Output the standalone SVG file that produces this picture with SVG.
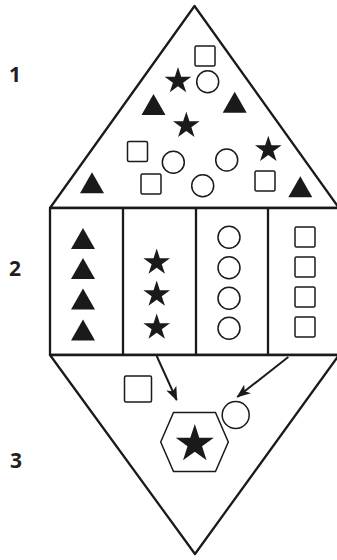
<svg xmlns="http://www.w3.org/2000/svg" width="337" height="560" viewBox="0 0 337 560">
<style>
.frame{fill:#fff;stroke:#1a1a1a;stroke-width:2.3;stroke-linejoin:round}
.o{fill:none;stroke:#1a1a1a;stroke-width:1.5}
.f{fill:#1a1a1a}
.lbl{font-family:"Open Sans","Noto Sans",sans-serif;font-weight:bold;font-size:21px;fill:#231f20;text-anchor:middle}
.arr{stroke:#1a1a1a;stroke-width:2;fill:none}
</style>
<defs>
<path id="star" d="M0,-14 L3.14,-4.33 L13.31,-4.33 L5.08,1.65 L8.23,11.33 L0,5.35 L-8.23,11.33 L-5.08,1.65 L-13.31,-4.33 L-3.14,-4.33Z"/>
<path id="tri" d="M0,0 L12,-21 L24,0Z"/>
<rect id="sq" width="20" height="20" rx="1.5"/>
<marker id="ah" viewBox="0 0 14 11" refX="13" refY="5.5" markerWidth="14" markerHeight="11" markerUnits="userSpaceOnUse" orient="auto">
<path d="M0,0 L14,5.5 L0,11 L3.5,5.5Z" fill="#1a1a1a"/>
</marker>
</defs>
<g id="labels">
<text class="lbl" x="15" y="82">1</text>
<text class="lbl" x="15" y="276">2</text>
<text class="lbl" x="16" y="468">3</text>
</g>
<g id="node-top">
<path class="frame" d="M194.5,6 L339,208 L50,208Z"/>
<use href="#sq" class="o" x="195" y="46"/>
<use href="#star" class="f" x="178" y="81"/>
<circle class="o" cx="207.7" cy="81.7" r="11"/>
<use href="#tri" class="f" x="141.5" y="115"/>
<use href="#tri" class="f" x="222.7" y="112.7"/>
<use href="#star" class="f" x="186.3" y="125.7"/>
<use href="#sq" class="o" x="127.5" y="141.5"/>
<circle class="o" cx="173.3" cy="162.3" r="11"/>
<circle class="o" cx="226.7" cy="160" r="11"/>
<use href="#star" class="f" x="268.3" y="149.7"/>
<use href="#sq" class="o" x="141" y="174"/>
<circle class="o" cx="202.7" cy="185.7" r="11"/>
<use href="#sq" class="o" x="255" y="171"/>
<use href="#tri" class="f" x="80" y="193.3"/>
<use href="#tri" class="f" x="288.3" y="197.3"/>
</g>
<g id="node-middle">
<rect class="frame" x="50" y="208" width="289" height="147"/>
<line class="frame" x1="123" y1="208" x2="123" y2="355"/>
<line class="frame" x1="196" y1="208" x2="196" y2="355"/>
<line class="frame" x1="268" y1="208" x2="268" y2="355"/>
<use href="#tri" class="f" x="71" y="249"/>
<use href="#tri" class="f" x="71" y="279"/>
<use href="#tri" class="f" x="71" y="309.5"/>
<use href="#tri" class="f" x="71" y="340.5"/>
<use href="#star" class="f" x="156.7" y="262.5"/>
<use href="#star" class="f" x="156.7" y="294.5"/>
<use href="#star" class="f" x="156.7" y="327.5"/>
<circle class="o" cx="229" cy="237.3" r="11"/>
<circle class="o" cx="229" cy="267.7" r="11"/>
<circle class="o" cx="229" cy="298.3" r="11"/>
<circle class="o" cx="229" cy="328.3" r="11"/>
<use href="#sq" class="o" x="295" y="227"/>
<use href="#sq" class="o" x="295" y="257"/>
<use href="#sq" class="o" x="295" y="287"/>
<use href="#sq" class="o" x="295" y="317"/>
</g>
<g id="node-bottom">
<path class="frame" d="M50,355 L339,355 L195,554Z"/>
<rect class="o" x="124.5" y="376" width="27" height="26" rx="1.5"/>
<circle class="o" cx="235.7" cy="415" r="13.5"/>
<path class="o" d="M160.7,442 L173.5,412.5 L215.5,412.5 L228.3,442 L215.5,471.5 L173.5,471.5Z"/>
<path class="f" d="M0,-14 L3.14,-4.33 L13.31,-4.33 L5.08,1.65 L8.23,11.33 L0,5.35 L-8.23,11.33 L-5.08,1.65 L-13.31,-4.33 L-3.14,-4.33Z" transform="translate(194.8,444) scale(1.43)"/>
</g>
<g id="connectors">
<line class="arr" x1="156.7" y1="356" x2="176.7" y2="400" marker-end="url(#ah)"/>
<line class="arr" x1="288.3" y1="357" x2="237.3" y2="397" marker-end="url(#ah)"/>
</g>
</svg>
